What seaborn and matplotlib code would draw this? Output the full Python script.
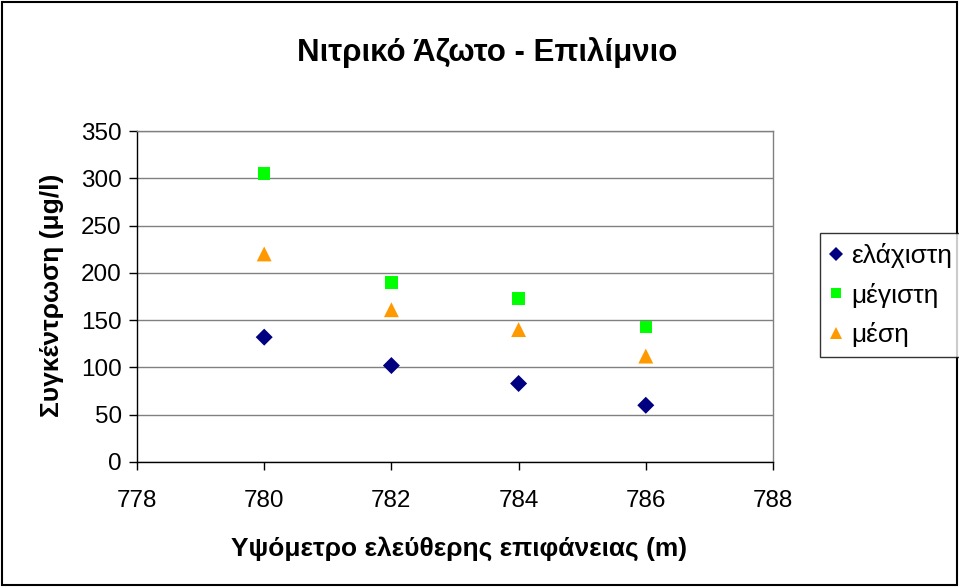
import matplotlib
matplotlib.use("Agg")
import matplotlib.pyplot as plt
import seaborn as sns
import pandas as pd
from matplotlib.patches import Rectangle

altitude = [780, 782, 784, 786]
minimum = [132, 102, 83, 60]
maximum = [305, 190, 173, 143]
mean = [220, 161, 140, 112]
series_names = ["ελάχιστη", "μέγιστη", "μέση"]
title = "Νιτρικό Άζωτο - Επιλίμνιο"
xlabel = "Υψόμετρο ελεύθερης επιφάνειας (m)"
ylabel = "Συγκέντρωση (μg/l)"
xticks = [778, 780, 782, 784, 786, 788]
yticks = [0, 50, 100, 150, 200, 250, 300, 350]

df = pd.DataFrame({
    "x": altitude * 3,
    "y": minimum + maximum + mean,
    "series": [series_names[0]] * 4 + [series_names[1]] * 4 + [series_names[2]] * 4,
})

sns.set_style("white", rc={"text.color": "black", "axes.labelcolor": "black",
                           "xtick.color": "black", "ytick.color": "black"})
plt.rcParams["font.family"] = ["Liberation Sans", "DejaVu Sans"]

W, H = 959, 587
fig = plt.figure(figsize=(W / 100, H / 100), dpi=100)
L, R, T, B = 137, 773, 131, 462
ax = fig.add_axes([L / W, 1 - B / H, (R - L) / W, (B - T) / H])

palette = {series_names[0]: "#000080", series_names[1]: "#00FF00", series_names[2]: "#FF9900"}
markers = {series_names[0]: "D", series_names[1]: "s", series_names[2]: "^"}
sizes = {series_names[0]: 75, series_names[1]: 80, series_names[2]: 115}
sns.scatterplot(data=df, x="x", y="y", hue="series", style="series", size="series",
                palette=palette, markers=markers, sizes=sizes, linewidth=0, ax=ax, legend=True)

ax.set_xlim(778, 788)
ax.set_ylim(0, 350)
ax.set_xticks(xticks)
ax.set_yticks(yticks)
ax.tick_params(axis="both", direction="out", length=6, width=1, colors="black",
               labelsize=17.5, bottom=True, left=True)
ax.tick_params(axis="x", pad=14)
ax.tick_params(axis="y", pad=5)
ax.yaxis.grid(True, color="#808080", linewidth=1)
ax.xaxis.grid(False)
ax.set_axisbelow(True)
for side in ["left", "bottom"]:
    ax.spines[side].set_color("black")
    ax.spines[side].set_linewidth(1)
for side in ["top", "right"]:
    ax.spines[side].set_color("#808080")
    ax.spines[side].set_linewidth(1)

ax.set_xlabel(xlabel, fontsize=19, fontweight="bold", color="black")
ax.set_ylabel(ylabel, fontsize=19, fontweight="bold", color="black")
ax.xaxis.set_label_coords((459 - L) / (R - L), -(536 - B) / (B - T))
ax.yaxis.set_label_coords(-(L - 64) / (R - L), (B - 295) / (B - T))
fig.text(487 / W, 1 - 53 / H, title, ha="center", va="center",
         fontsize=22.5, fontweight="bold", color="black")

handles, labels = ax.get_legend_handles_labels()
ax.get_legend().remove()
leg = fig.legend(handles, labels, loc="upper left",
                 bbox_to_anchor=(820 / W, 1 - 233 / H), frameon=True, fancybox=False,
                 fontsize=19, handletextpad=0.34, borderpad=0.38, labelspacing=0.55,
                 handlelength=0.45, borderaxespad=0, markerscale=0.8)
leg.get_frame().set_edgecolor("black")
leg.get_frame().set_linewidth(1)

fig.patches.append(Rectangle((2 / W, 2 / H), 955 / W, 583 / H, transform=fig.transFigure,
                             fill=False, edgecolor="black", linewidth=1.5))

fig.savefig("out.png", dpi=100)
